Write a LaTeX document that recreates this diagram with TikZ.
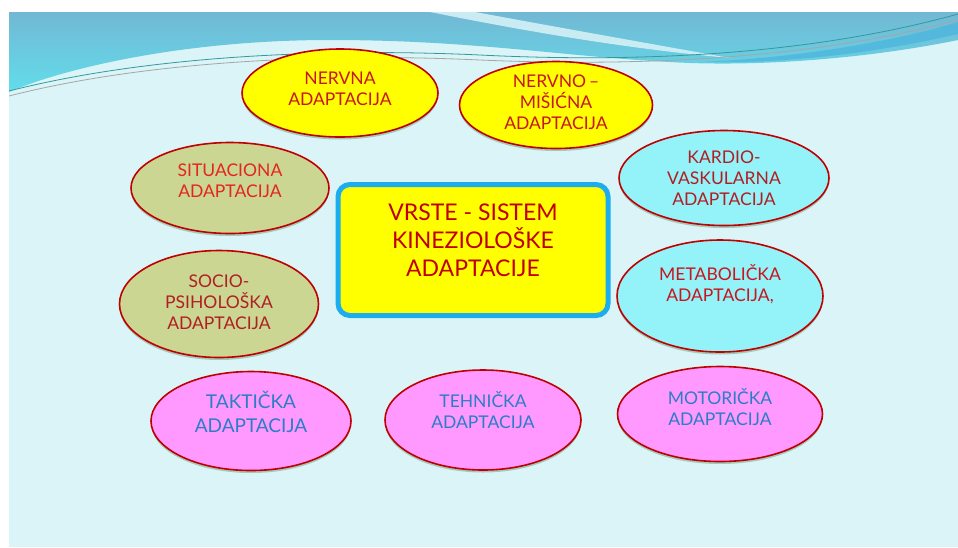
\documentclass[tikz,border=0pt]{standalone}
\usepackage{fontspec}
\setmainfont{Lato}
\usetikzlibrary{shapes.geometric,shadows,positioning}
\definecolor{slide}{HTML}{DAF4F8}
\definecolor{wavetop}{HTML}{72B8D4}
\definecolor{wavelow}{HTML}{62DDEB}
\definecolor{waveband}{HTML}{4DB6DD}
\definecolor{yel}{HTML}{FFFF00}
\definecolor{olive}{HTML}{CAD691}
\definecolor{aqua}{HTML}{94F3F9}
\definecolor{pink}{HTML}{FF99FF}
\definecolor{ovalred}{HTML}{C00000}
\definecolor{boxblue}{HTML}{1BADEE}
\definecolor{txtred}{HTML}{C8161D}
\definecolor{txtbright}{HTML}{E3261F}
\definecolor{txtdark}{HTML}{B01F24}
\definecolor{txtblue}{HTML}{2A7DC9}

\begin{document}
\begin{tikzpicture}[x=1pt,y=-1pt]
	  \tikzstyle{oval}=[ellipse,draw=ovalred,line width=1.6pt,inner sep=0pt,
	    drop shadow={shadow xshift=0pt,shadow yshift=-2.5pt,opacity=0.25,fill=black!70!green}]
	  \tikzstyle{ovaltext}=[align=center,inner sep=0pt,font=\fontsize{17.5}{21}\selectfont]
	  \tikzstyle{mainbox}=[rectangle,rounded corners=12pt,draw=boxblue,line width=5pt,fill=yel]

	  \useasboundingbox[fill=white] (0,0) rectangle (958,547);
	  \fill[slide] (9,12) rectangle (958,547);
	  \shade[top color=wavetop,bottom color=wavelow]
	    (9,12) -- (958,12) -- (958,40)
	    .. controls (880,56) and (780,66) .. (690,63)
	    .. controls (570,58) and (480,40) .. (330,40)
	    .. controls (190,40) and (70,66) .. (9,92) -- cycle;
	  \fill[slide,opacity=0.85] (430,12) .. controls (520,30) and (620,48) .. (730,58)
	    .. controls (640,42) and (540,24) .. (475,12) -- cycle;
	  \fill[waveband,opacity=0.8] (700,62) .. controls (800,58) and (900,40) .. (958,22)
	    -- (958,34) .. controls (880,52) and (790,64) .. (700,62) -- cycle;
	  \draw[teal!80,line width=0.8pt] (9,91) .. controls (150,55) and (330,48) .. (480,55)
	    .. controls (620,62) and (800,58) .. (958,14);
	  \draw[gray!70,line width=0.8pt] (9,96) .. controls (150,60) and (330,53) .. (480,60)
	    .. controls (620,66) and (800,62) .. (958,20);

	  \node[oval,fill=yel,minimum width=196,minimum height=88] (nervna) at (340,93) {};
	  \node[ovaltext,text=txtred] (nervnaT) at (340,89) {NERVNA\\ADAPTACIJA};

	  \node[oval,fill=yel,minimum width=193,minimum height=87] (misicna) at (556,105) {};
	  \node[ovaltext,text=txtred] (misicnaT) at (556,102) {NERVNO\,--\\MIŠIĆNA\\ADAPTACIJA};

	  \node[oval,fill=olive,minimum width=198,minimum height=91] (situaciona) at (230,188) {};
	  \node[ovaltext,text=txtbright] (situacionaT) at (230,181) {SITUACIONA\\ADAPTACIJA};

	  \node[oval,fill=olive,minimum width=199,minimum height=107] (socio) at (219,304) {};
	  \node[ovaltext,text=txtdark] (socioT) at (219,302) {SOCIO-\\PSIHOLOŠKA\\ADAPTACIJA};

	  \node[oval,fill=aqua,minimum width=210,minimum height=95] (kardio) at (724,178) {};
	  \node[ovaltext,text=txtdark] (kardioT) at (724,178) {KARDIO-\\VASKULARNA\\ADAPTACIJA};

	  \node[oval,fill=aqua,minimum width=206,minimum height=112] (metabolicka) at (720,296) {};
	  \node[ovaltext,text=txtred] (metabolickaT) at (720,284) {METABOLIČKA\\ADAPTACIJA,};

	  \node[mainbox,minimum width=270,minimum height=131] (vrste) at (473,250) {};
	  \node[align=center,text=ovalred,font=\fontsize{23}{28}\selectfont] (vrsteT) at (473,240)
	    {VRSTE - SISTEM\\KINEZIOLOŠKE\\ADAPTACIJE};

	  \node[oval,fill=pink,minimum width=200,minimum height=99] (takticka) at (251,421) {};
	  \node[ovaltext,text=txtblue,font=\fontsize{19}{24}\selectfont] (taktickaT) at (251,412) {TAKTIČKA\\ADAPTACIJA};

	  \node[oval,fill=pink,minimum width=196,minimum height=100] (tehnicka) at (483,420) {};
	  \node[ovaltext,text=txtblue] (tehnickaT) at (483,410) {TEHNIČKA\\ADAPTACIJA};

	  \node[oval,fill=pink,minimum width=205,minimum height=95] (motoricka) at (720,414) {};
	  \node[ovaltext,text=txtblue] (motorickaT) at (720,407) {MOTORIČKA\\ADAPTACIJA};
\end{tikzpicture}
\end{document}
